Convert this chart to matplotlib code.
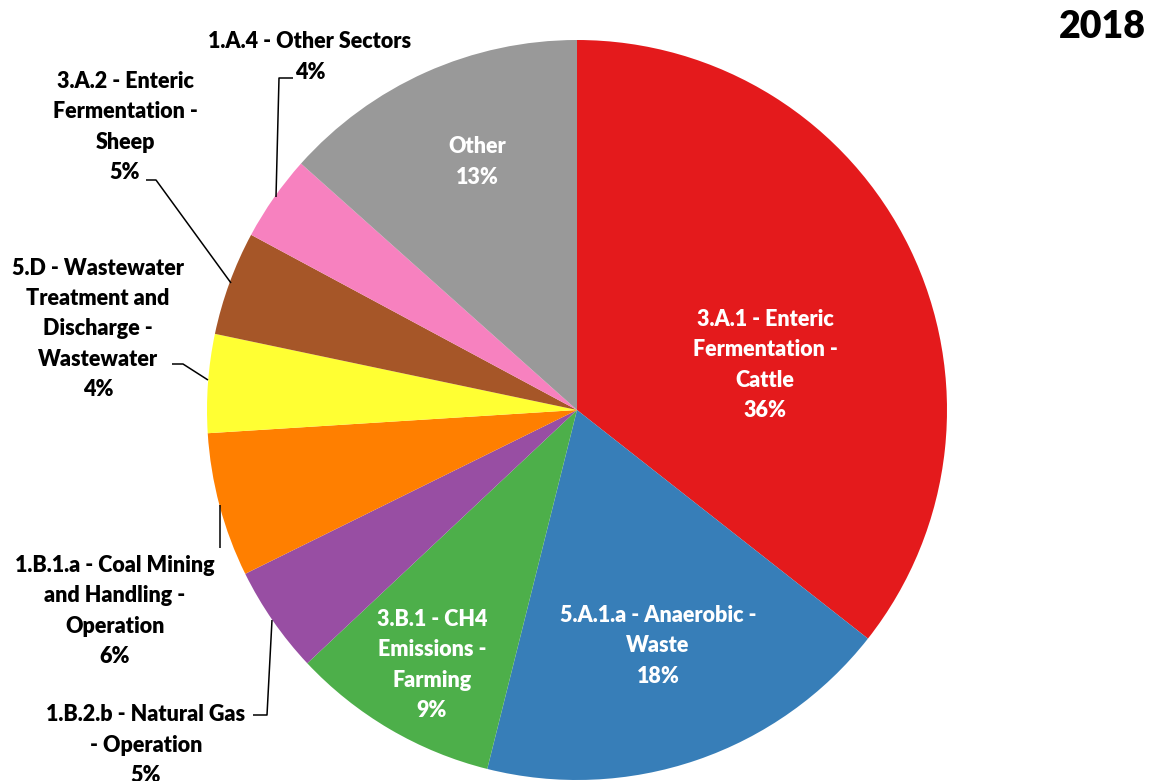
import matplotlib
matplotlib.use("Agg")
import matplotlib.pyplot as plt

categories = [
    "3.A.1 - Enteric\nFermentation -\nCattle",
    "5.A.1.a - Anaerobic -\nWaste",
    "3.B.1 - CH4\nEmissions -\nFarming",
    "1.B.2.b - Natural Gas\n- Operation",
    "1.B.1.a - Coal Mining\nand Handling -\nOperation",
    "5.D - Wastewater\nTreatment and\nDischarge -\nWastewater",
    "3.A.2 - Enteric\nFermentation -\nSheep",
    "1.A.4 - Other Sectors",
    "Other",
]
values = [35.6, 18.3, 9.1, 4.7, 6.3, 4.3, 4.55, 3.75, 13.4]
colors = ["#E41A1C", "#377EB8", "#4DAF4A", "#984EA3", "#FF7F00",
          "#FFFF33", "#A65628", "#F781BF", "#999999"]
title = "2018"

W, H = 1156, 781
fig = plt.figure(figsize=(W / 100, H / 100), dpi=100)
cx, cy, R = 577, 410, 370
ax = fig.add_axes([(cx - R) / W, (H - cy - R) / H, 2 * R / W, 2 * R / H])
ax.pie(values, colors=colors, startangle=90, counterclock=False, radius=1,
       wedgeprops=dict(linewidth=0))
ax.set_xlim(-1, 1)
ax.set_ylim(-1, 1)
ax.set_aspect("equal")
ax.axis("off")

FONT = "Lato"
FS = 15.5
total = sum(values)
pcts = ["%.0f%%" % (v / total * 100) for v in values]


def P(px, py):
    return ((px - cx) / R, (cy - py) / R)


def label(i, px, py, color, ha="center"):
    x, y = P(px, py)
    ax.text(x, y, categories[i] + "\n" + pcts[i], ha=ha, va="center",
            color=color, fontsize=FS, fontweight="heavy", family=FONT,
            linespacing=1.55, clip_on=False)


def leader(pts):
    xs, ys = zip(*[P(a, b) for a, b in pts])
    ax.plot(xs, ys, color="black", lw=1.1, clip_on=False, solid_capstyle="butt")


# inside labels
label(0, 765, 365, "white")
label(1, 658, 646, "white")
label(2, 432, 665, "white")
label(8, 477, 162, "white")

# outside labels
label(7, 310, 57, "black")
label(6, 125, 127, "black")
label(5, 98, 329, "black")
label(4, 115, 611, "black")
label(3, 146, 745, "black")

leader([(293, 78), (279, 78), (276, 197)])
leader([(146, 180), (156, 180), (231, 283)])
leader([(172, 364), (183, 364), (208, 380)])
leader([(220, 548), (220, 505)])
leader([(253, 715), (267, 715), (272, 620)])

fig.text(1146 / W, 1 - 27 / H, title, ha="right", va="center",
         fontsize=27, fontweight="heavy", family=FONT)

fig.savefig("out.png", dpi=100)
